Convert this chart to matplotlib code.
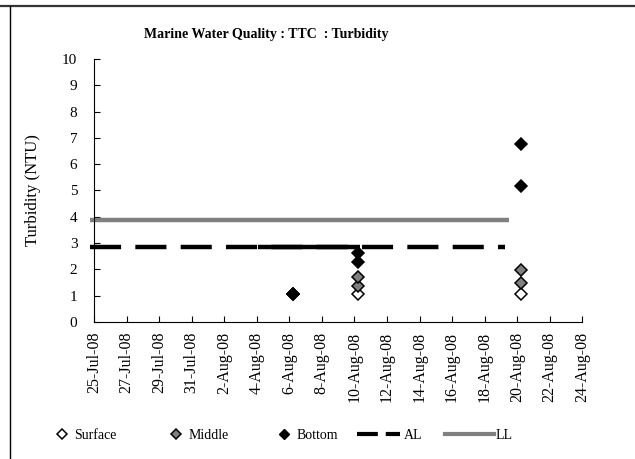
import numpy as np
import pandas as pd
import matplotlib
matplotlib.use('Agg')
import matplotlib.pyplot as plt
from matplotlib.lines import Line2D

plt.rcParams['font.family'] = ['Liberation Serif', 'DejaVu Serif']

# sampling data (surface / middle / bottom)
surface_dates = pd.to_datetime(['2008-08-06 06:00', '2008-08-10 06:00', '2008-08-20 06:00'])
surface_vals = [1.05, 1.05, 1.08]

middle_dates = pd.to_datetime(['2008-08-06 06:00', '2008-08-10 06:00', '2008-08-10 06:00',
                               '2008-08-20 06:00', '2008-08-20 06:00'])
middle_vals = [1.05, 1.37, 1.70, 1.48, 1.98]

bottom_dates = pd.to_datetime(['2008-08-06 06:00', '2008-08-10 06:00', '2008-08-10 06:00',
                               '2008-08-20 06:00', '2008-08-20 06:00'])
bottom_vals = [1.06, 2.27, 2.64, 5.17, 6.78]

# limit lines
al_dates = pd.to_datetime(['2008-07-24 18:00', '2008-08-19 06:00'])
al_vals = [2.87, 2.87]
al_solid_dates = pd.to_datetime(['2008-08-04 02:00', '2008-08-10 08:00'])
ll_dates = pd.to_datetime(['2008-07-24 18:00', '2008-08-19 12:00'])
ll_vals = [3.88, 3.88]

fig = plt.figure(figsize=(6.35, 4.59), dpi=100)
ax = fig.add_axes([0.148, 0.2985, 0.769, 0.573])

ax.plot(ll_dates, ll_vals, color='#808080', lw=3.2, solid_capstyle='butt',
        clip_on=False, zorder=2)
ax.plot(al_dates, al_vals, color='black', lw=3.2, dashes=(7, 3.2),
        clip_on=False, zorder=2)
ax.plot(al_solid_dates, al_vals, color='black', lw=3.2, solid_capstyle='butt', zorder=2)

ms = 6
ax.plot(surface_dates, surface_vals, 'D', ms=ms, mfc='white', mec='black', mew=1.1, zorder=3)
ax.plot(middle_dates, middle_vals, 'D', ms=ms, mfc='#808080', mec='black', mew=1.1, zorder=3)
ax.plot(bottom_dates, bottom_vals, 'D', ms=ms, mfc='black', mec='black', mew=1.1, zorder=4)

ax.set_xlim(pd.Timestamp('2008-07-25'), pd.Timestamp('2008-08-24'))
ax.set_ylim(0, 10)
ax.set_yticks(range(0, 11))
ticks = pd.date_range('2008-07-25', '2008-08-24', freq='2D')
ax.set_xticks(ticks)
ax.set_xticklabels([f'{d.day}-{d.strftime("%b")}-08' for d in ticks], rotation=90, fontsize=11.5)
ax.tick_params(axis='both', direction='in', length=4, width=0.8)
ax.tick_params(axis='x', pad=7)
ax.tick_params(axis='y', labelsize=11, pad=12)
for s in ['top', 'right']:
    ax.spines[s].set_visible(False)
ax.set_ylabel('Turbidity (NTU)', fontsize=12)
ax.yaxis.set_label_coords(-0.109, 0.5)
fig.text(0.419, 0.924, 'Marine Water Quality : TTC  : Turbidity', fontsize=10,
         fontweight='bold', ha='center', va='center')

# legend entries placed individually (Excel style spacing)
entries = [
    (Line2D([], [], marker='D', ls='none', ms=5.5, mfc='white', mec='black', mew=1.1), 'Surface', 56.5, 0.8, 0.5),
    (Line2D([], [], marker='D', ls='none', ms=5.5, mfc='#808080', mec='black', mew=1.1), 'Middle', 170.5, 0.8, 0.5),
    (Line2D([], [], marker='D', ls='none', ms=5.5, mfc='black', mec='black'), 'Bottom', 278.5, 0.8, 0.5),
    (Line2D([], [], color='black', lw=3, dashes=(5, 1.9)), 'AL', 357, 3.1, 0.25),
    (Line2D([], [], color='#808080', lw=3), 'LL', 445, 3.5, 0.15),
]
for h, lab, x0, hl, tp in entries:
    fig.legend([h], [lab], loc='center left', bbox_to_anchor=(x0 / 635, 0.052),
               frameon=False, fontsize=10, borderpad=0, borderaxespad=0,
               handlelength=hl, handletextpad=tp)

# outer frame lines (top and left)
fig.add_artist(Line2D([0, 1], [1 - 6 / 459, 1 - 6 / 459], color='#333333', lw=1.6))
fig.add_artist(Line2D([10 / 635, 10 / 635], [0, 1 - 6 / 459], color='black', lw=1.0))

fig.savefig('out.png', dpi=100)
